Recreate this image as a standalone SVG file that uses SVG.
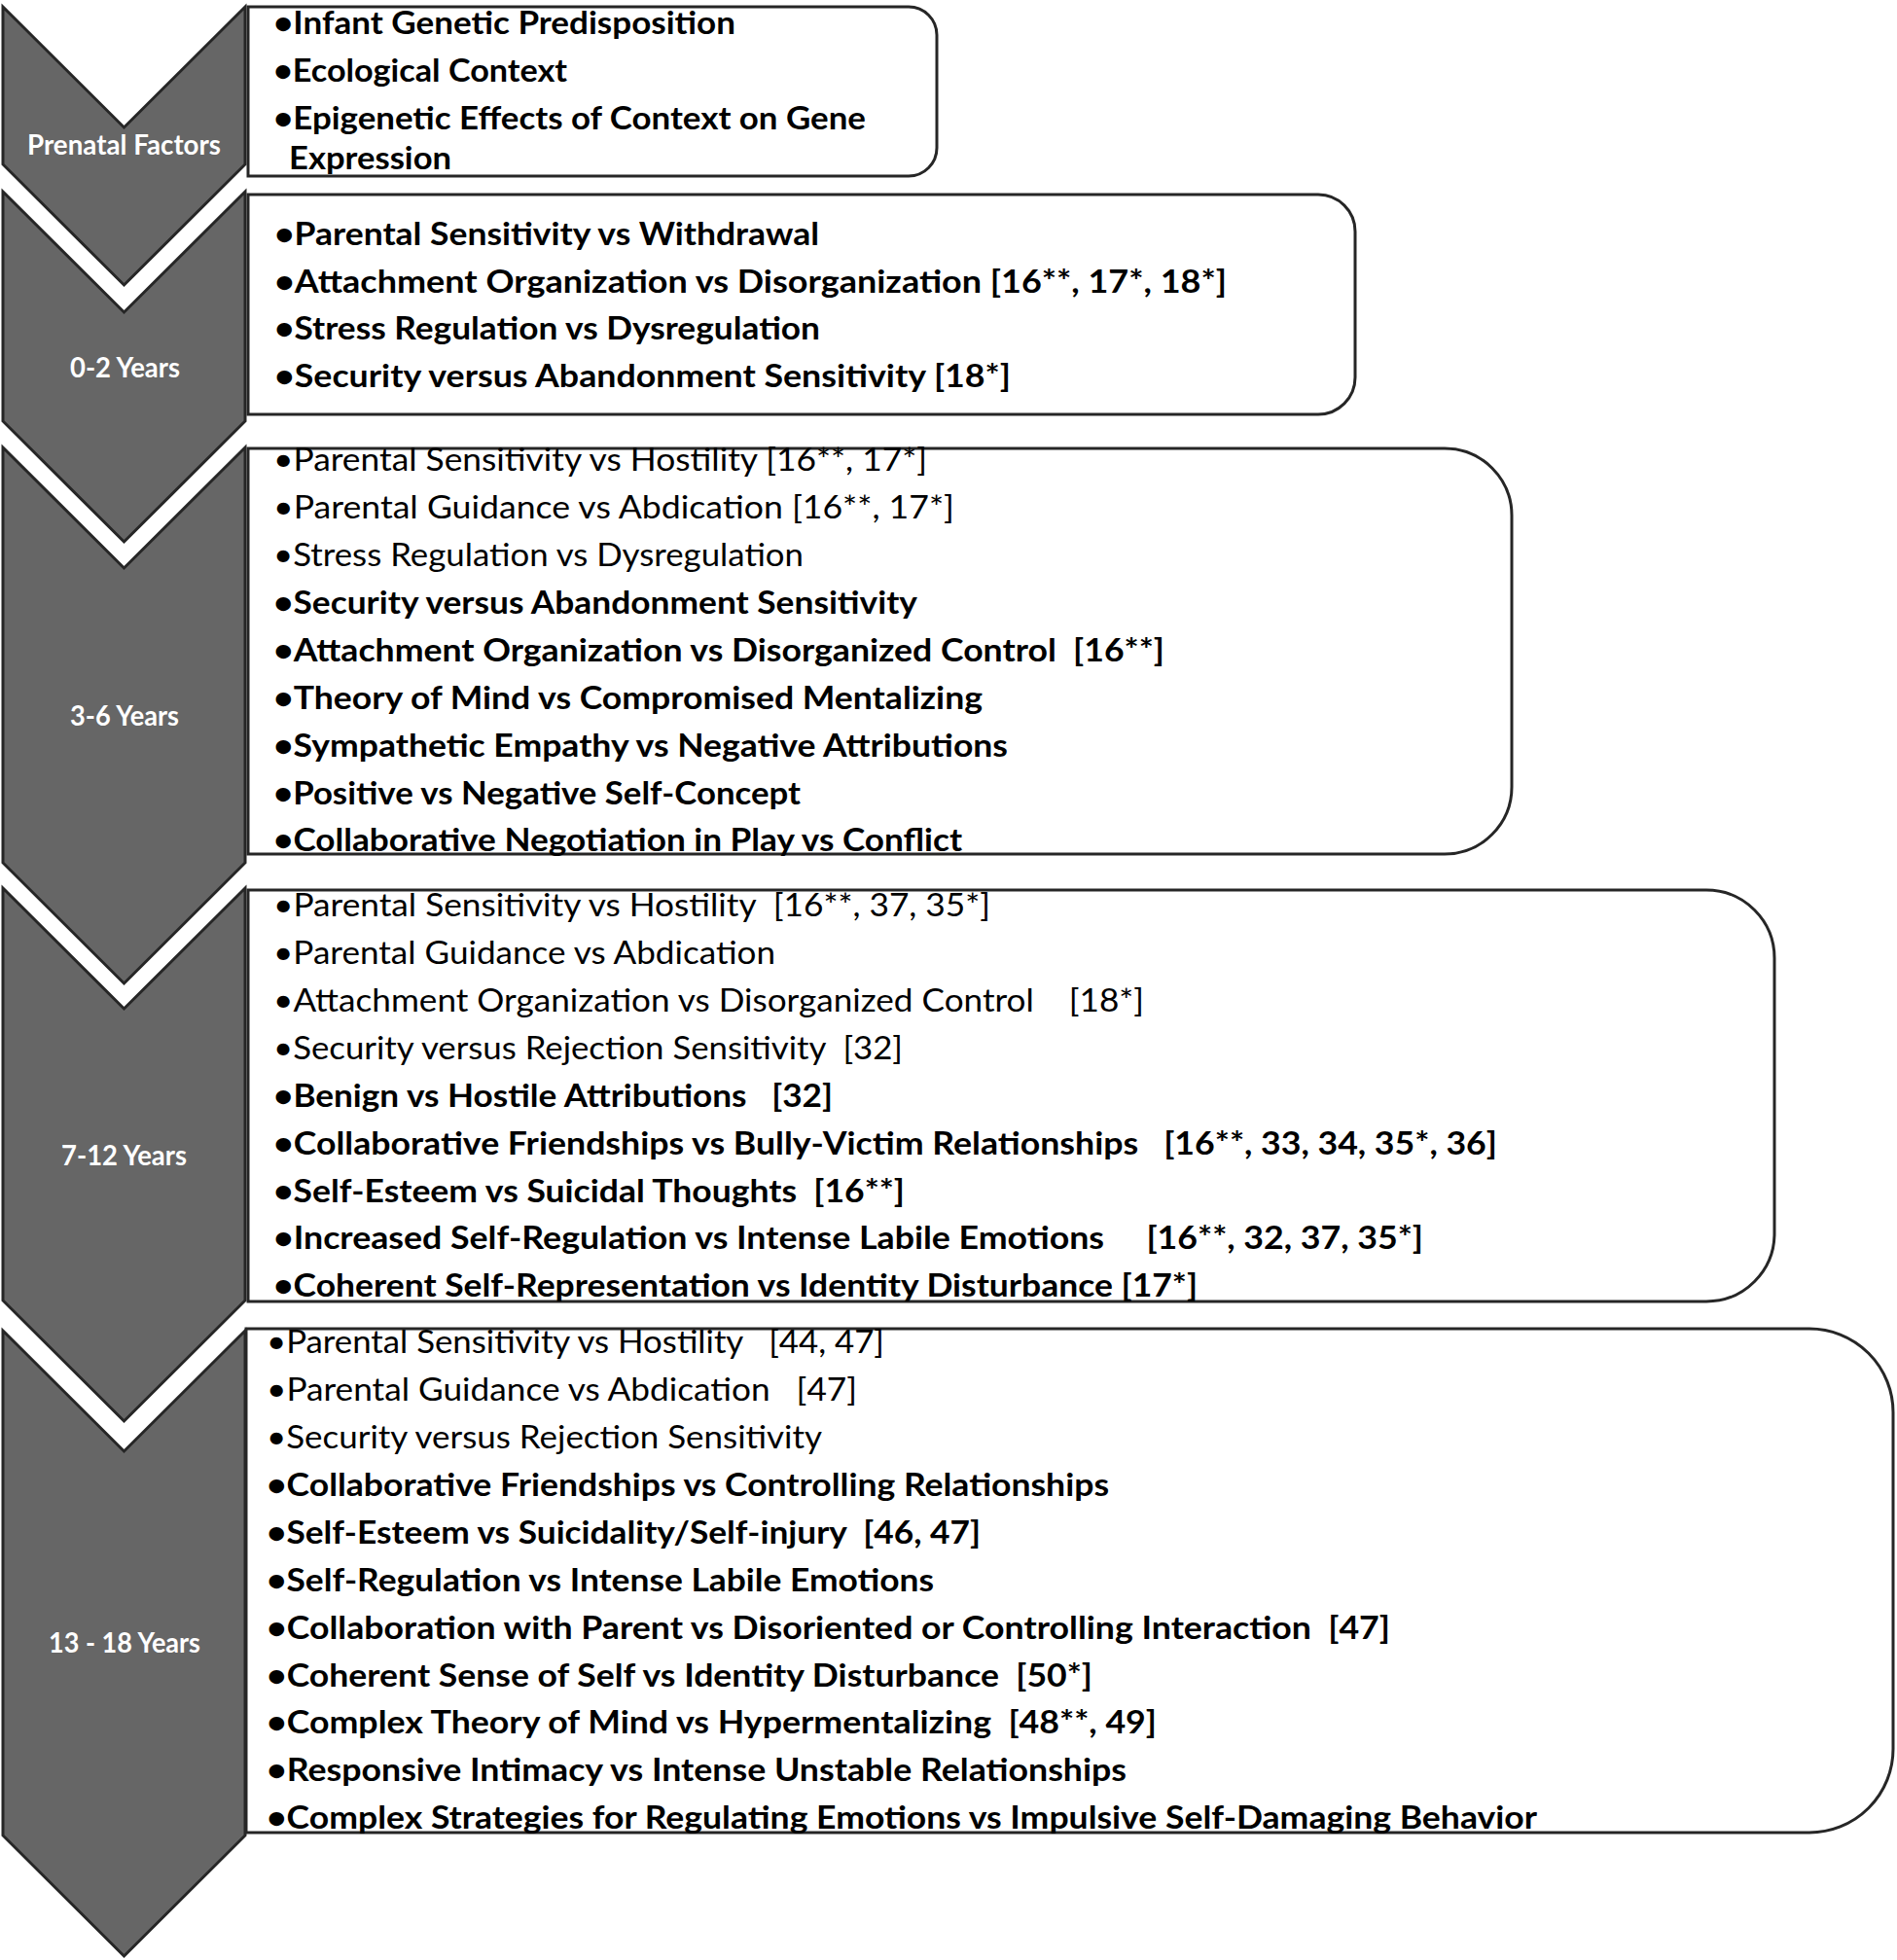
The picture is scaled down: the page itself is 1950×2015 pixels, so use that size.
<svg xmlns="http://www.w3.org/2000/svg" width="1950" height="2015" viewBox="0 0 1950 2015">
<style>
.chev{fill:#666666;stroke:#262626;stroke-width:3;stroke-linejoin:miter}
.box{fill:#ffffff;stroke:#262626;stroke-width:3}
.lab{font-family:Lato,"Liberation Sans",sans-serif;font-weight:700;font-size:28px;fill:#ffffff;text-anchor:middle}
.t{font-family:Lato,"Liberation Sans",sans-serif;font-size:33px;fill:#000000;white-space:pre}
.b{font-weight:700}
.r{font-weight:400}
</style>
<rect x="0" y="0" width="1950" height="2015" fill="#ffffff"/>

<g id="chevron-prenatal">
<polygon class="chev" points="3,7 127.5,131 252,7 252,169 127.5,293 3,169"/>
<text class="lab" x="127.5" y="158.5" textLength="199" lengthAdjust="spacingAndGlyphs">Prenatal Factors</text>
</g>
<g id="chevron-0-2">
<polygon class="chev" points="3,197 127.5,321 252,197 252,433 127.5,557 3,433"/>
<text class="lab" x="128.5" y="387.5" textLength="113" lengthAdjust="spacingAndGlyphs">0-2 Years</text>
</g>
<g id="chevron-3-6">
<polygon class="chev" points="3,460 127.5,584 252,460 252,887 127.5,1011 3,887"/>
<text class="lab" x="128" y="746" textLength="112" lengthAdjust="spacingAndGlyphs">3-6 Years</text>
</g>
<g id="chevron-7-12">
<polygon class="chev" points="3,913 127.5,1037 252,913 252,1337 127.5,1461 3,1337"/>
<text class="lab" x="127.5" y="1198" textLength="129" lengthAdjust="spacingAndGlyphs">7-12 Years</text>
</g>
<g id="chevron-13-18">
<polygon class="chev" points="3,1368 127.5,1492 252,1368 252,1887 127.5,2011 3,1887"/>
<text class="lab" x="128" y="1699" textLength="156" lengthAdjust="spacingAndGlyphs">13 - 18 Years</text>
</g>

<g id="box-prenatal">
<path class="box" d="M255,7 H934 A29,29 0 0 1 963,36 V152 A29,29 0 0 1 934,181 H255 Z"/>
<text class="t b" x="281" y="35" textLength="475" lengthAdjust="spacingAndGlyphs">•Infant Genetic Predisposition</text>
<text class="t b" x="281" y="84" textLength="302" lengthAdjust="spacingAndGlyphs">•Ecological Context</text>
<text class="t b" x="281" y="133" textLength="609" lengthAdjust="spacingAndGlyphs">•Epigenetic Effects of Context on Gene</text>
<text class="t b" x="297" y="174" textLength="167" lengthAdjust="spacingAndGlyphs">Expression</text>
</g>

<g id="box-0-2">
<path class="box" d="M255,200 H1355 A38,38 0 0 1 1393,238 V388 A38,38 0 0 1 1355,426 H255 Z"/>
<text class="t b" x="282" y="251.5" textLength="560" lengthAdjust="spacingAndGlyphs">•Parental Sensitivity vs Withdrawal</text>
<text class="t b" x="282" y="300.5" textLength="979" lengthAdjust="spacingAndGlyphs">•Attachment Organization vs Disorganization [16**, 17*, 18*]</text>
<text class="t b" x="282" y="349" textLength="561" lengthAdjust="spacingAndGlyphs">•Stress Regulation vs Dysregulation</text>
<text class="t b" x="282" y="398" textLength="757" lengthAdjust="spacingAndGlyphs">•Security versus Abandonment Sensitivity [18*]</text>
</g>

<g id="box-3-6">
<path class="box" d="M255,461 H1485 A69,69 0 0 1 1554,530 V809 A69,69 0 0 1 1485,878 H255 Z"/>
<text class="t r" x="281" y="484" textLength="672" lengthAdjust="spacingAndGlyphs">•Parental Sensitivity vs Hostility [16**, 17*]</text>
<text class="t r" x="281" y="533" textLength="700" lengthAdjust="spacingAndGlyphs">•Parental Guidance vs Abdication [16**, 17*]</text>
<text class="t r" x="281" y="582" textLength="545" lengthAdjust="spacingAndGlyphs">•Stress Regulation vs Dysregulation</text>
<text class="t b" x="281" y="631" textLength="662" lengthAdjust="spacingAndGlyphs">•Security versus Abandonment Sensitivity</text>
<text class="t b" x="281" y="680" textLength="916" lengthAdjust="spacingAndGlyphs">•Attachment Organization vs Disorganized Control  [16**]</text>
<text class="t b" x="281" y="729" textLength="729" lengthAdjust="spacingAndGlyphs">•Theory of Mind vs Compromised Mentalizing</text>
<text class="t b" x="281" y="777.5" textLength="755" lengthAdjust="spacingAndGlyphs">•Sympathetic Empathy vs Negative Attributions</text>
<text class="t b" x="281" y="826.5" textLength="542" lengthAdjust="spacingAndGlyphs">•Positive vs Negative Self-Concept</text>
<text class="t b" x="281" y="875" textLength="708" lengthAdjust="spacingAndGlyphs">•Collaborative Negotiation in Play vs Conflict</text>
</g>

<g id="box-7-12">
<path class="box" d="M255,915 H1754 A70,70 0 0 1 1824,985 V1268 A70,70 0 0 1 1754,1338 H255 Z"/>
<text class="t r" x="281" y="942" textLength="737" lengthAdjust="spacingAndGlyphs">•Parental Sensitivity vs Hostility  [16**, 37, 35*]</text>
<text class="t r" x="281" y="991" textLength="516" lengthAdjust="spacingAndGlyphs">•Parental Guidance vs Abdication</text>
<text class="t r" x="281" y="1040" textLength="895" lengthAdjust="spacingAndGlyphs">•Attachment Organization vs Disorganized Control    [18*]</text>
<text class="t r" x="281" y="1089" textLength="647" lengthAdjust="spacingAndGlyphs">•Security versus Rejection Sensitivity  [32]</text>
<text class="t b" x="281" y="1138" textLength="575" lengthAdjust="spacingAndGlyphs">•Benign vs Hostile Attributions   [32]</text>
<text class="t b" x="281" y="1186.5" textLength="1258" lengthAdjust="spacingAndGlyphs">•Collaborative Friendships vs Bully-Victim Relationships   [16**, 33, 34, 35*, 36]</text>
<text class="t b" x="281" y="1235.5" textLength="649" lengthAdjust="spacingAndGlyphs">•Self-Esteem vs Suicidal Thoughts  [16**]</text>
<text class="t b" x="281" y="1284" textLength="1182" lengthAdjust="spacingAndGlyphs">•Increased Self-Regulation vs Intense Labile Emotions     [16**, 32, 37, 35*]</text>
<text class="t b" x="281" y="1332.5" textLength="950" lengthAdjust="spacingAndGlyphs">•Coherent Self-Representation vs Identity Disturbance [17*]</text>
</g>

<g id="box-13-18">
<path class="box" d="M253,1366 H1860 A86,86 0 0 1 1946,1452 V1798 A86,86 0 0 1 1860,1884 H253 Z"/>
<text class="t r" x="274" y="1391" textLength="635" lengthAdjust="spacingAndGlyphs">•Parental Sensitivity vs Hostility   [44, 47]</text>
<text class="t r" x="274" y="1440" textLength="607" lengthAdjust="spacingAndGlyphs">•Parental Guidance vs Abdication   [47]</text>
<text class="t r" x="274" y="1489" textLength="571" lengthAdjust="spacingAndGlyphs">•Security versus Rejection Sensitivity</text>
<text class="t b" x="274" y="1538" textLength="866" lengthAdjust="spacingAndGlyphs">•Collaborative Friendships vs Controlling Relationships</text>
<text class="t b" x="274" y="1586.5" textLength="734" lengthAdjust="spacingAndGlyphs">•Self-Esteem vs Suicidality/Self-injury  [46, 47]</text>
<text class="t b" x="274" y="1635.5" textLength="686" lengthAdjust="spacingAndGlyphs">•Self-Regulation vs Intense Labile Emotions</text>
<text class="t b" x="274" y="1684.5" textLength="1155" lengthAdjust="spacingAndGlyphs">•Collaboration with Parent vs Disoriented or Controlling Interaction  [47]</text>
<text class="t b" x="274" y="1733.5" textLength="849" lengthAdjust="spacingAndGlyphs">•Coherent Sense of Self vs Identity Disturbance  [50*]</text>
<text class="t b" x="274" y="1782" textLength="915" lengthAdjust="spacingAndGlyphs">•Complex Theory of Mind vs Hypermentalizing  [48**, 49]</text>
<text class="t b" x="274" y="1831" textLength="884" lengthAdjust="spacingAndGlyphs">•Responsive Intimacy vs Intense Unstable Relationships</text>
<text class="t b" x="274" y="1880" textLength="1306" lengthAdjust="spacingAndGlyphs">•Complex Strategies for Regulating Emotions vs Impulsive Self-Damaging Behavior</text>
</g>
</svg>
